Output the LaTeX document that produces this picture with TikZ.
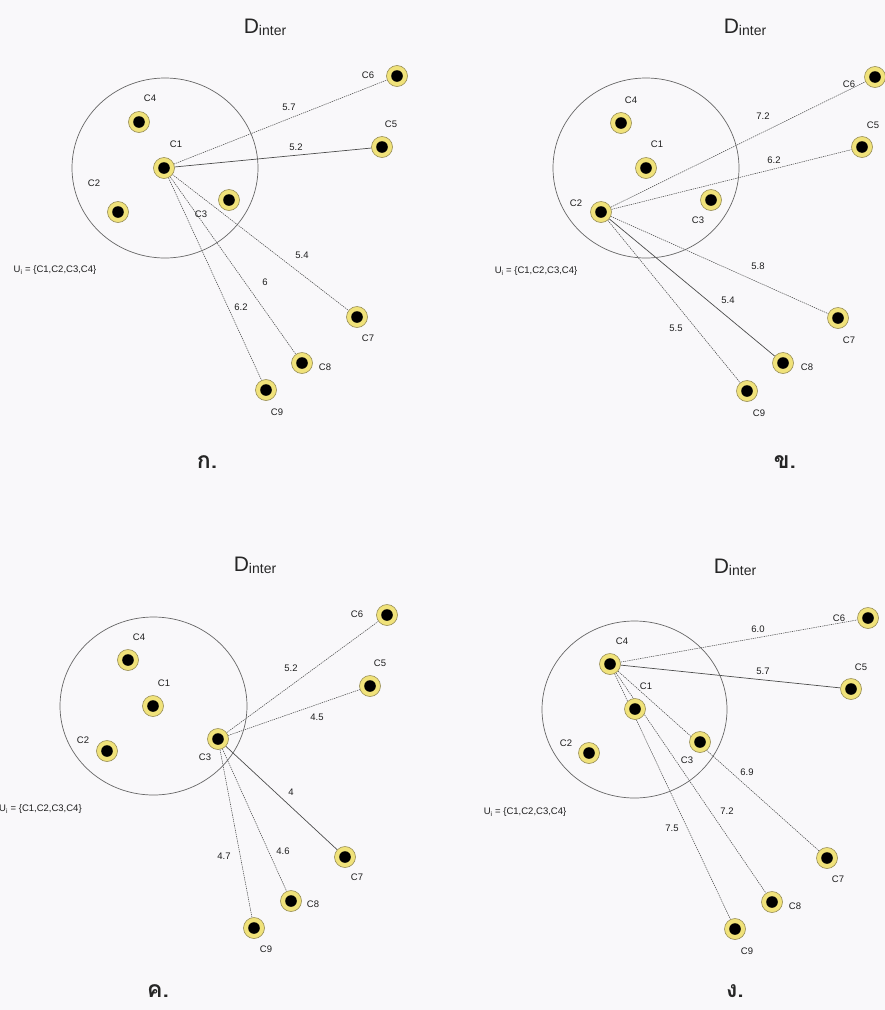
\documentclass[tikz,border=0pt]{standalone}
\usepackage{fontspec}
\setmainfont{Liberation Sans}
\newfontfamily\thaifont[Script=Thai]{Loma}
\definecolor{paper}{RGB}{249,248,250}
\definecolor{siteyellow}{RGB}{240,226,122}
\definecolor{siteedge}{RGB}{150,140,85}
\definecolor{inkgray}{RGB}{30,30,30}
\pgfdeclarelayer{bg}
\pgfsetlayers{bg,main}
\tikzset{
  site/.style={circle, fill=siteyellow, draw=siteedge, line width=0.6pt,
    minimum size=21pt, inner sep=0pt,
    path picture={\fill[black] (path picture bounding box.center) circle (5.8pt);}},
  clab/.style={font=\fontsize{9.5}{11}\selectfont, text=inkgray, inner sep=0pt},
  dist/.style={font=\fontsize{9.5}{11}\selectfont, text=inkgray, inner sep=0pt},
  ulab/.style={font=\fontsize{9.5}{11}\selectfont, text=inkgray, inner sep=0pt},
  title/.style={font=\fontsize{21}{24}\selectfont, text=black!85, inner sep=0pt},
  caption/.style={font=\thaifont\bfseries\fontsize{23}{26}\selectfont, text=black!85,
    inner sep=0pt, anchor=base},
  group/.style={draw=black!60, line width=0.7pt},
  near/.style={draw=black!70, line width=0.7pt},
  far/.style={draw=black!70, line width=0.55pt, dash pattern=on 1.3pt off 0.9pt},
}
\newcommand{\dinter}{D\raisebox{-2pt}{\fontsize{14}{16}\selectfont inter}}
\newcommand{\uset}{U\textsubscript{i} = \{C1,C2,C3,C4\}}
\begin{document}
\begin{tikzpicture}[x=1pt,y=-1pt]
\begin{pgfonlayer}{bg}
  \fill[paper] (0,0) rectangle (885,1010);
\end{pgfonlayer}
\useasboundingbox (0,0) rectangle (885,1010);

% ---------- panel ก : distances from C1 ----------
\node[title] (ta) at (265,27) {\dinter};
\draw[group] (165,168) ellipse [x radius=93, y radius=90];
\foreach \n/\x/\y/\lx/\ly in {1/164/168/176/144, 2/118/212/94/183, 3/229/200/201/214,
  4/139/122/150/98, 5/382/147/391/124, 6/397/76/368/75, 7/357/317/368/338,
  8/302/363/325/367, 9/266/390/277/412}{
  \node[site] (a\n) at (\x,\y) {};
  \node[clab] (a\n l) at (\lx,\ly) {C\n};
}
\begin{pgfonlayer}{bg}
  \draw[far]  (a1) -- (a6);
  \draw[near] (a1) -- (a5);
  \draw[far]  (a1) -- (a7);
  \draw[far]  (a1) -- (a8);
  \draw[far]  (a1) -- (a9);
\end{pgfonlayer}
\node[dist] (ad6) at (289,107) {5.7};
\node[dist] (ad5) at (296,147) {5.2};
\node[dist] (ad7) at (302,255) {5.4};
\node[dist] (ad8) at (265,282) {6};
\node[dist] (ad9) at (241,307) {6.2};
\node[ulab] (ua) at (55,270) {\uset};
\node[caption] (ka) at (207,468) {ก.};

% ---------- panel ข : distances from C2 ----------
\node[title] (tb) at (745,27) {\dinter};
\draw[group] (646,168) ellipse [x radius=93, y radius=90];
\foreach \n/\x/\y/\lx/\ly in {1/646/168/657/144, 2/601/212/576/203, 3/711/200/698/220,
  4/621/123/631/100, 5/862/147/873/125, 6/875/77/849/84, 7/838/318/849/340,
  8/783/363/807/367, 9/747/391/759/413}{
  \node[site] (b\n) at (\x,\y) {};
  \node[clab] (b\n l) at (\lx,\ly) {C\n};
}
\begin{pgfonlayer}{bg}
  \draw[far]  (b2) -- (b6);
  \draw[far]  (b2) -- (b5);
  \draw[far]  (b2) -- (b7);
  \draw[near] (b2) -- (b8);
  \draw[far]  (b2) -- (b9);
\end{pgfonlayer}
\node[dist] (bd6) at (763,116) {7.2};
\node[dist] (bd5) at (774,160) {6.2};
\node[dist] (bd7) at (758,266) {5.8};
\node[dist] (bd8) at (728,300) {5.4};
\node[dist] (bd9) at (676,328) {5.5};
\node[ulab] (ub) at (536,271) {\uset};
\node[caption] (kb) at (785,468) {ข.};

% ---------- panel ค : distances from C3 ----------
\node[title] (tc) at (255,565) {\dinter};
\draw[group] (153.5,706) ellipse [x radius=93.5, y radius=89];
\foreach \n/\x/\y/\lx/\ly in {1/153/706/164/683, 2/107/751/83/740, 3/218/739/205/757,
  4/128/660/139/637, 5/370/686/380/663, 6/387/615/357/614, 7/345/857/357/877,
  8/291/901/313/904, 9/254/928/266/949}{
  \node[site] (c\n) at (\x,\y) {};
  \node[clab] (c\n l) at (\lx,\ly) {C\n};
}
\begin{pgfonlayer}{bg}
  \draw[far]  (c3) -- (c6);
  \draw[far]  (c3) -- (c5);
  \draw[near] (c3) -- (c7);
  \draw[far]  (c3) -- (c8);
  \draw[far]  (c3) -- (c9);
\end{pgfonlayer}
\node[dist] (cd6) at (291,668) {5.2};
\node[dist] (cd5) at (317,717) {4.5};
\node[dist] (cd7) at (291,792) {4};
\node[dist] (cd8) at (283,851) {4.6};
\node[dist] (cd9) at (224,856) {4.7};
\node[ulab, anchor=west] (uc) at (-1,809) {\uset};
\node[caption] (kc) at (158,997) {ค.};

% ---------- panel ง : distances from C4 ----------
\node[title] (td) at (735,567) {\dinter};
\draw[group] (634.5,709.5) ellipse [x radius=92.5, y radius=88.5];
\foreach \n/\x/\y/\lx/\ly in {1/635/709/646/686, 2/589/753/566/743, 3/700/742/687/760,
  4/610/664/622/641, 5/851/689/861/667, 6/868/618/839/618, 7/827/858/838/879,
  8/772/902/795/906, 9/735/929/747/951}{
  \node[site] (d\n) at (\x,\y) {};
  \node[clab] (d\n l) at (\lx,\ly) {C\n};
}
\begin{pgfonlayer}{bg}
  \draw[far]  (d4) -- (d6);
  \draw[near] (d4) -- (d5);
  \draw[far]  (d4) -- (d7);
  \draw[far]  (d4) -- (d8);
  \draw[far]  (d4) -- (d9);
\end{pgfonlayer}
\node[dist] (dd6) at (758,629) {6.0};
\node[dist] (dd5) at (763,671) {5.7};
\node[dist] (dd7) at (747,772) {6.9};
\node[dist] (dd8) at (727,811) {7.2};
\node[dist] (dd9) at (672,828) {7.5};
\node[ulab] (ud) at (525,812) {\uset};
\node[caption] (kd) at (735,997) {ง.};
\end{tikzpicture}
\end{document}
